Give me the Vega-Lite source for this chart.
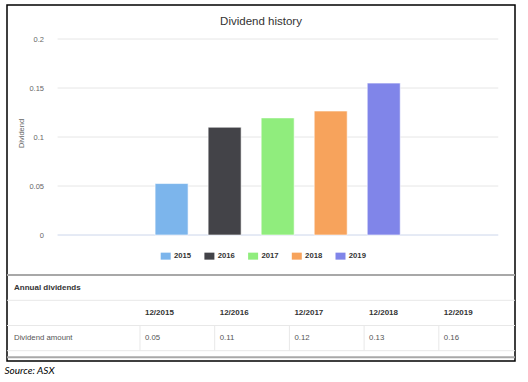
{
  "$schema": "https://vega.github.io/schema/vega-lite/v6.json",
  "width": 508,
  "height": 356,
  "autosize": {"type": "none"},
  "padding": {"left": 7, "top": 5, "right": 13, "bottom": 21},
  "background": "white",
  "title": {"text": "Dividend history", "anchor": "middle", "frame": "group", "offset": -31.3, "baseline": "alphabetic", "fontSize": 11.5, "fontWeight": "normal", "color": "#333333", "font": "Liberation Sans"},
  "config": {"view": {"stroke": "#000000", "strokeWidth": 1.5}, "font": "Liberation Sans"},
  "resolve": {"scale": {"x": "independent", "y": "independent"}, "axis": {"x": "independent", "y": "independent"}},
  "layer": [
    {
      "layer": [
        {
          "data": {"values": [{"tick": 0}, {"tick": 0.05}, {"tick": 0.1}, {"tick": 0.15}, {"tick": 0.2}]},
          "mark": {"type": "rule", "strokeWidth": 1},
          "encoding": {
            "y": {"field": "tick", "type": "quantitative", "scale": {"domain": [-0.128571, 0.234694], "nice": false, "zero": false},
              "axis": {"orient": "left", "values": [0, 0.05, 0.1, 0.15, 0.2], "format": "~g", "offset": -36.5, "labelPadding": 0, "ticks": false, "tickSize": 0, "domain": false, "grid": false, "labelFontSize": 7.5, "labelColor": "#666666", "labelFont": "Liberation Sans", "title": "Dividend", "titleFont": "Liberation Sans", "titleFontSize": 7.5, "titleFontWeight": "normal", "titleColor": "#666666", "titleX": -22.5, "titleY": 128, "titleBaseline": "middle", "titleAngle": 270}},
            "x": {"datum": 2012.85, "type": "quantitative", "scale": {"domain": [2011.9908, 2021.3808], "nice": false, "zero": false},
              "axis": {"orient": "bottom", "labels": false, "ticks": false, "domain": false, "grid": false, "title": "Source: ASX", "titleAnchor": "start", "titleAlign": "left", "titleX": -3, "titleY": 12.5, "titleBaseline": "alphabetic", "titleFont": "Lato", "titleFontStyle": "italic", "titleFontWeight": "normal", "titleFontSize": 10, "titleColor": "#000000"}},
            "x2": {"datum": 2021.16},
            "color": {"condition": {"test": "datum.tick === 0", "value": "#ccd6eb"}, "value": "#e6e6e6"}
          }
        },
        {
          "data": {"values": [
            {"year": 2015, "label": "2015", "dividend": 0.0525},
            {"year": 2016, "label": "2016", "dividend": 0.11},
            {"year": 2017, "label": "2017", "dividend": 0.1195},
            {"year": 2018, "label": "2018", "dividend": 0.1265},
            {"year": 2019, "label": "2019", "dividend": 0.155}
          ]},
          "mark": {"type": "bar", "width": 33, "stroke": "#ffffff", "strokeWidth": 0.6},
          "encoding": {
            "x": {"field": "year", "type": "quantitative"},
            "y": {"field": "dividend", "type": "quantitative"},
            "color": {"field": "label", "type": "nominal",
              "scale": {"domain": ["2015", "2016", "2017", "2018", "2019"], "range": ["#7cb5ec", "#434348", "#90ed7d", "#f7a35c", "#8085e9"]},
              "legend": {"orient": "none", "legendX": 153.7, "legendY": 246, "direction": "horizontal", "title": null, "symbolType": "M-1,-0.7H1V0.7H-1Z", "symbolSize": 100, "symbolStrokeWidth": 0, "labelFont": "Liberation Sans", "labelFontSize": 7.7, "labelFontWeight": "bold", "labelColor": "#333333", "labelOffset": 3.3, "columnPadding": 12.7, "padding": 0}}
          }
        }
      ]
    },
    {
      "layer": [
        {
          "data": {"values": [{"line": -0.5}, {"line": 2.762}]},
          "mark": {"type": "rule", "color": "#a8a8a8", "strokeWidth": 2},
          "encoding": {
            "y": {"field": "line", "type": "quantitative", "scale": {"domain": [-11.218, 2.9087], "reverse": true, "nice": false, "zero": false}, "axis": null}
          }
        },
        {
          "data": {"values": [{"line": 0.5}, {"line": 1.5}, {"line": 2.5}]},
          "mark": {"type": "rule", "color": "#e8e8e8", "strokeWidth": 1},
          "encoding": {
            "y": {"field": "line", "type": "quantitative"}
          }
        },
        {
          "data": {"values": [
            {"col": 1, "period": "12/2015", "amount": 0.05},
            {"col": 2, "period": "12/2016", "amount": 0.11},
            {"col": 3, "period": "12/2017", "amount": 0.12},
            {"col": 4, "period": "12/2018", "amount": 0.13},
            {"col": 5, "period": "12/2019", "amount": 0.16}
          ]},
          "layer": [
            {
              "mark": {"type": "rule", "color": "#e8e8e8", "strokeWidth": 1},
              "encoding": {
                "x": {"field": "col", "type": "quantitative", "scale": {"domain": [-0.78, 6.02], "nice": false, "zero": false}, "axis": null},
                "y": {"datum": 1.5, "type": "quantitative"},
                "y2": {"datum": 2.5}
              }
            },
            {
              "mark": {"type": "text", "align": "left", "baseline": "middle", "dx": 5, "fontSize": 8, "fontWeight": "bold", "color": "#333333"},
              "encoding": {
                "x": {"field": "col", "type": "quantitative"},
                "y": {"datum": 1, "type": "quantitative"},
                "text": {"field": "period"}
              }
            },
            {
              "mark": {"type": "text", "align": "left", "baseline": "middle", "dx": 5, "fontSize": 7.8, "color": "#555555"},
              "encoding": {
                "x": {"field": "col", "type": "quantitative"},
                "y": {"datum": 2, "type": "quantitative"},
                "text": {"field": "amount", "type": "quantitative", "format": ".2f"}
              }
            }
          ]
        },
        {
          "data": {"values": [{"label": "Annual dividends"}]},
          "mark": {"type": "text", "align": "left", "baseline": "middle", "dx": 7, "fontSize": 8, "fontWeight": "bold", "color": "#333333"},
          "encoding": {
            "x": {"datum": -0.78, "type": "quantitative"},
            "y": {"datum": 0, "type": "quantitative"},
            "text": {"field": "label"}
          }
        },
        {
          "data": {"values": [{"label": "Dividend amount"}]},
          "mark": {"type": "text", "align": "left", "baseline": "middle", "dx": 7, "fontSize": 7.8, "color": "#555555"},
          "encoding": {
            "x": {"datum": -0.78, "type": "quantitative"},
            "y": {"datum": 2, "type": "quantitative"},
            "text": {"field": "label"}
          }
        }
      ]
    }
  ]
}
